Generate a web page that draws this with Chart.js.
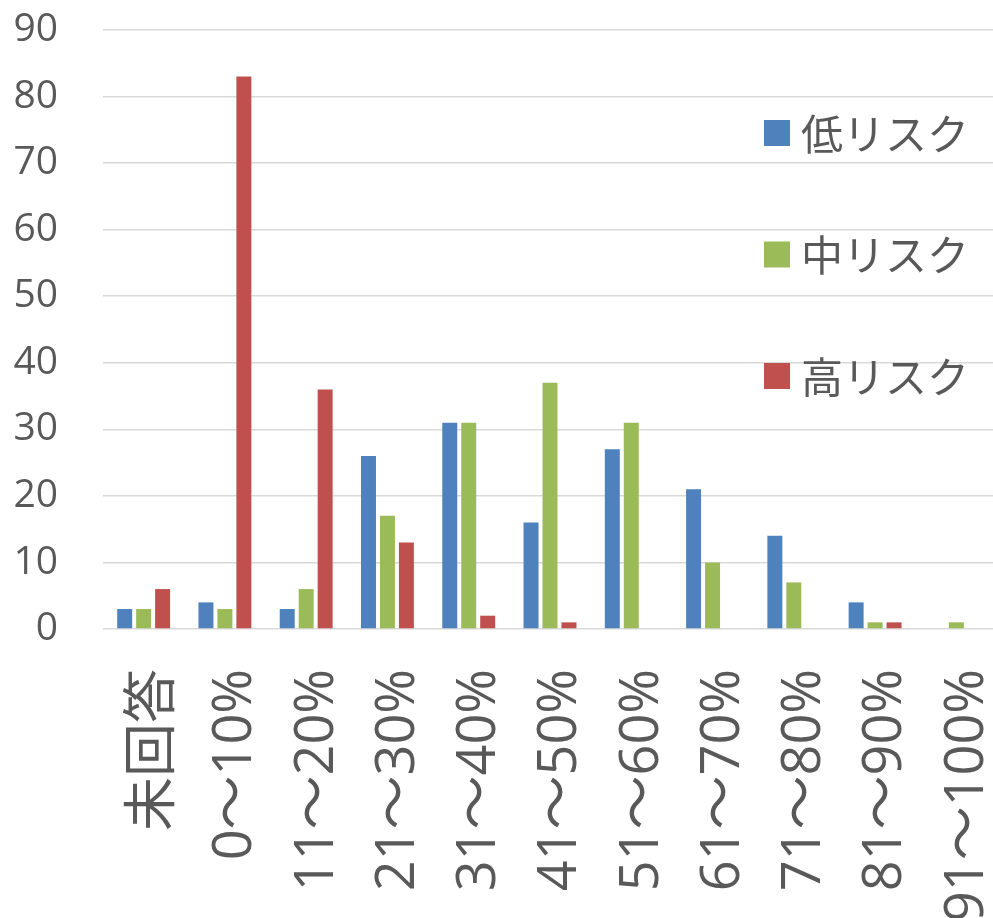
<!DOCTYPE html>
<html lang="ja">
<head>
<meta charset="utf-8">
<title>リスク別 分布</title>
<script src="https://cdn.jsdelivr.net/npm/chart.js@4/dist/chart.umd.min.js"></script>
<style>
  html, body { margin: 0; padding: 0; background: #ffffff; overflow: hidden; }
  #wrap { width: 997px; height: 918px; }
</style>
</head>
<body>
<div id="wrap"><canvas id="chart" width="997" height="918"></canvas></div>
<script>
// Answer ranges (x axis)
const categories = ['未回答', '0～10%', '11～20%', '21～30%', '31～40%', '41～50%',
                    '51～60%', '61～70%', '71～80%', '81～90%', '91～100%'];

// Series names
const seriesNames = ['低リスク', '中リスク', '高リスク'];

// Counts per range
const lowRisk  = [3, 4, 3, 26, 31, 16, 27, 21, 14, 4, 0];
const midRisk  = [3, 3, 6, 17, 31, 37, 31, 10, 7, 1, 1];
const highRisk = [6, 83, 36, 13, 2, 1, 0, 0, 0, 1, 0];

// Value axis
const yMin = 0;
const yMax = 90;
const yStep = 10;

const colors = ['#4F81BD', '#9BBB59', '#C0504D'];
const textColor = '#595959';
const latin = "'Open Sans', 'Noto Sans CJK JP', sans-serif";
const cjk = "'Noto Sans CJK JP', 'Open Sans', sans-serif";

// Legend drawn inside the plot area, stacked on the right
const insideLegend = {
  id: 'insideLegend',
  afterDatasetsDraw(chart) {
    const ctx = chart.ctx;
    const area = chart.chartArea;
    const x0 = area.right - 233;
    const y0 = area.top + 103;
    const gap = 121.5;
    ctx.save();
    ctx.font = '42px ' + cjk;
    ctx.textBaseline = 'middle';
    ctx.textAlign = 'left';
    chart.data.datasets.forEach((ds, i) => {
      const cy = y0 + i * gap;
      ctx.fillStyle = ds.backgroundColor;
      ctx.fillRect(x0, cy - 13, 26, 26);
      ctx.fillStyle = textColor;
      ctx.fillText(ds.label, x0 + 37, cy + 1);
    });
    ctx.restore();
  }
};

// Keep the plot area edge-to-edge: no extra room reserved for overhanging labels
function noOverhang(scale) {
  scale.paddingLeft = 0;
  scale.paddingRight = 0;
  scale.paddingTop = 0;
  scale.paddingBottom = 0;
}

new Chart(document.getElementById('chart'), {
  type: 'bar',
  data: {
    labels: categories,
    datasets: [
      { label: seriesNames[0], data: lowRisk,  backgroundColor: colors[0] },
      { label: seriesNames[1], data: midRisk,  backgroundColor: colors[1] },
      { label: seriesNames[2], data: highRisk, backgroundColor: colors[2] }
    ]
  },
  options: {
    responsive: false,
    animation: false,
    devicePixelRatio: 1,
    layout: { padding: { top: 30, right: 0, bottom: 0, left: 0 } },
    datasets: {
      bar: { categoryPercentage: 0.70, barPercentage: 0.79 }
    },
    plugins: {
      legend: { display: false },
      tooltip: { enabled: false }
    },
    scales: {
      x: {
        grid: { display: false, drawTicks: false },
        border: { display: false },
        ticks: {
          color: textColor,
          font: { family: latin, size: 54 },
          minRotation: 90,
          maxRotation: 90,
          autoSkip: false,
          padding: 40,
          labelOffset: 11
        },
        afterFit(scale) { scale.height = 289; noOverhang(scale); }
      },
      y: {
        min: yMin,
        max: yMax,
        grid: { color: '#D9D9D9', lineWidth: 1.5, drawTicks: false },
        border: { display: false },
        ticks: {
          stepSize: yStep,
          color: textColor,
          font: { family: latin, size: 39 },
          padding: 45
        },
        afterFit(scale) { scale.width = 103; noOverhang(scale); }
      }
    }
  },
  plugins: [insideLegend]
});
</script>
</body>
</html>
